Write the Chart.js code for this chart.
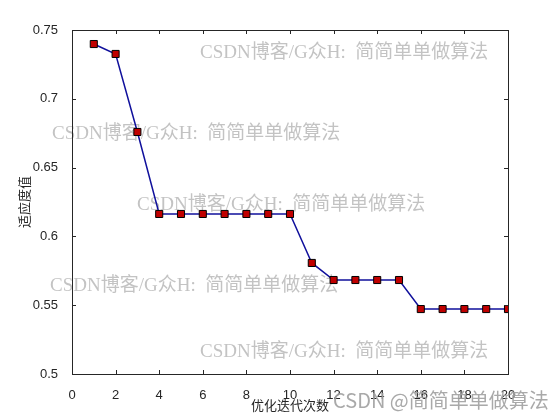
<!DOCTYPE html>
<html>
<head>
<meta charset="utf-8">
<script src="https://cdn.jsdelivr.net/npm/chart.js@4"></script>
<style>
  body { margin: 0; background: #fff; }
  canvas { display: block; }
</style>
</head>
<body>
<canvas id="myChart" width="560" height="420"></canvas>
<script>
// datos
const iteraciones = [1, 2, 3, 4, 5, 6, 7, 8, 9, 10, 11, 12, 13, 14, 15, 16, 17, 18, 19, 20];
const fitness = [0.7398, 0.7326, 0.6759, 0.6163, 0.6163, 0.6163, 0.6163, 0.6163, 0.6163, 0.6163,
  0.5807, 0.5683, 0.5683, 0.5683, 0.5683, 0.5472, 0.5472, 0.5472, 0.5472, 0.5472];
const xTicks = [0, 2, 4, 6, 8, 10, 12, 14, 16, 18, 20];
const yTicks = [0.5, 0.55, 0.6, 0.65, 0.7, 0.75];

const marca = "CSDN博客/G众H:  简简单单做算法";
const marcasPos = [[200, 53], [52, 134], [137, 205], [50, 286], [200, 352]]; // marcas de agua

// caja y ticks hacia adentro (estilo matlab)
const cajaPlugin = {
  id: "caja",
  beforeDatasetsDraw(chart) {
    // marcas de agua debajo de la línea
    const { ctx } = chart;
    ctx.save();
    ctx.fillStyle = "rgba(185,185,185,0.85)";
    ctx.font = '19px "Liberation Serif", "Noto Sans CJK SC"';
    ctx.textBaseline = "middle";
    marcasPos.forEach(([x, y]) => ctx.fillText(marca, x, y));
    ctx.restore();
  },
  afterDraw(chart) {
    const { ctx, chartArea: a, scales } = chart;
    ctx.save();
    ctx.strokeStyle = "#262626";
    ctx.lineWidth = 1;
    ctx.strokeRect(a.left + 0.5, a.top + 0.5, a.right - a.left, a.bottom - a.top);
    ctx.beginPath();
    xTicks.forEach((t) => {
      const px = Math.round(scales.x.getPixelForValue(t)) + 0.5;
      ctx.moveTo(px, a.bottom); ctx.lineTo(px, a.bottom - 4);
      ctx.moveTo(px, a.top); ctx.lineTo(px, a.top + 4);
    });
    yTicks.forEach((t) => {
      const py = Math.round(scales.y.getPixelForValue(t)) + 0.5;
      ctx.moveTo(a.left, py); ctx.lineTo(a.left + 4, py);
      ctx.moveTo(a.right, py); ctx.lineTo(a.right - 4, py);
    });
    ctx.stroke();

    ctx.fillStyle = "rgba(160,160,160,0.9)";
    ctx.font = '20px "Noto Sans CJK SC", "Liberation Sans"';
    ctx.textBaseline = "middle";
    ctx.fillText("CSDN @简简单单做算法", 333, 400);
    ctx.restore();
  },
};

const data = {
  datasets: [
    {
      label: "fitness",
      data: iteraciones.map((it, i) => ({ x: it, y: fitness[i] })),
      borderColor: "#10109c",
      borderWidth: 1.5,
      pointStyle: "rect",
      pointRadius: 5,
      pointBackgroundColor: "#c00000",
      pointBorderColor: "#000",
      pointBorderWidth: 1,
      tension: 0,
    },
  ],
};

const config = {
  type: "line",
  data,
  options: {
    responsive: false,
    animation: false,
    layout: { padding: { top: 30, right: 52, left: 0, bottom: 0 } },
    plugins: { legend: { display: false }, tooltip: { enabled: false } },
    scales: {
      x: {
        type: "linear",
        min: 0,
        max: 20,
        afterBuildTicks: (s) => { s.ticks = xTicks.map((v) => ({ value: v })); },
        afterFit: (s) => { s.height = 46; },
        grid: { display: false },
        border: { display: false },
        ticks: { color: "#262626", font: { family: "Liberation Sans", size: 13 }, padding: 6 },
        title: {
          display: true,
          text: "优化迭代次数",
          color: "#262626",
          font: { family: "Noto Sans CJK SC", size: 13 },
          padding: { top: 0, bottom: 7 },
        },
      },
      y: {
        min: 0.5,
        max: 0.75,
        afterBuildTicks: (s) => { s.ticks = yTicks.map((v) => ({ value: v })); },
        afterFit: (s) => { s.width = 72; },
        grid: { display: false },
        border: { display: false },
        ticks: {
          color: "#262626",
          font: { family: "Liberation Sans", size: 13 },
          padding: 6,
          callback: (v) => String(+v.toFixed(2)),
        },
        title: {
          display: true,
          text: "适应度值",
          color: "#262626",
          font: { family: "Noto Sans CJK SC", size: 13 },
          padding: { top: 16, bottom: 0 },
        },
      },
    },
  },
  plugins: [cajaPlugin],
};

const myChart = document.getElementById("myChart");
new Chart(myChart, config);
</script>
</body>
</html>
